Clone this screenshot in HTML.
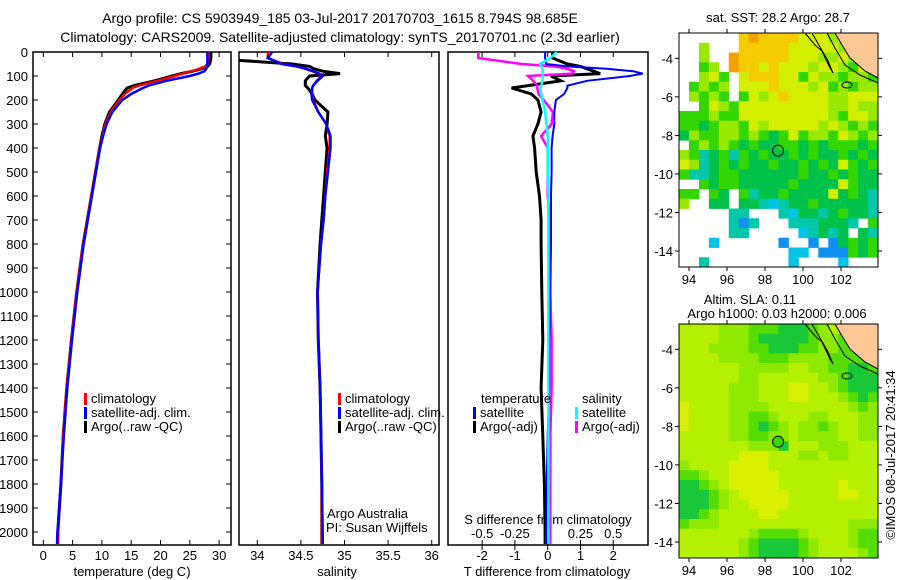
<!DOCTYPE html>
<html><head><meta charset="utf-8"><style>
body{margin:0;background:#fff;}
svg{display:block;font-family:"Liberation Sans",sans-serif;}
text{fill:#000;}
</style></head><body>
<svg id="fig" width="900" height="580" viewBox="0 0 900 580">
<defs>
<clipPath id="c1"><rect x="33" y="52" width="198" height="493"/></clipPath>
<clipPath id="c2"><rect x="239" y="52" width="200" height="493"/></clipPath>
<clipPath id="c3"><rect x="448" y="52" width="200" height="493"/></clipPath>
</defs>
<text x="340" y="23" font-size="14" text-anchor="middle">Argo profile: CS 5903949_185 03-Jul-2017 20170703_1615 8.794S 98.685E</text>
<text x="340" y="42" font-size="14" text-anchor="middle">Climatology: CARS2009. Satellite-adjusted climatology: synTS_20170701.nc (2.3d earlier)</text>
<g id="g1"></g>
<g id="g2"></g>
<g id="g3"></g>
<g id="m1"></g>
<g id="m2"></g>
<text x="778" y="22" font-size="13" text-anchor="middle">sat. SST: 28.2 Argo: 28.7</text>
<text x="750" y="304" font-size="13" text-anchor="middle">Altim. SLA: 0.11</text>
<text x="777" y="318" font-size="13" text-anchor="middle">Argo h1000: 0.03 h2000: 0.006</text>
<text transform="translate(895,455) rotate(-90)" font-size="13" text-anchor="middle">©IMOS 08-Jul-2017 20:41:34</text>
</svg>
<script>
const depths=[0,25,50,60,70,80,90,100,120,140,150,175,200,250,300,350,400,500,600,700,800,1000,1200,1400,1600,1800,2000,2050];
const tempArgo=[28.6,28.6,28.4,28.0,27.0,25.5,23.5,22.0,19.0,15.5,14.3,13.5,12.8,11.3,10.5,10.0,9.6,8.9,8.2,7.5,6.8,5.7,4.8,4.0,3.4,3.0,2.5,2.45];
const tempClim=[28.2,28.2,28.0,27.6,26.6,25.3,23.8,22.5,19.5,16.3,15.2,13.9,13.0,11.5,10.6,10.1,9.6,8.9,8.2,7.5,6.8,5.7,4.8,4.0,3.4,3.0,2.5,2.45];
const tempSat=[28.0,28.0,28.0,28.0,27.8,27.5,26.5,25.0,21.0,18.0,17.0,15.0,13.5,11.8,10.8,10.2,9.7,9.0,8.3,7.6,6.9,5.8,4.9,4.1,3.5,3.0,2.4,2.35];
const salArgo=[33.4,33.4,34.4,34.6,34.65,34.75,34.95,34.6,34.55,34.55,34.58,34.63,34.66,34.81,34.80,34.78,34.8,34.78,34.76,34.74,34.72,34.69,34.7,34.72,34.73,34.74,34.74,34.74];
const salClim=[34.12,34.12,34.3,34.45,34.55,34.63,34.7,34.74,34.68,34.64,34.63,34.63,34.64,34.7,34.79,34.83,34.83,34.8,34.78,34.76,34.73,34.69,34.7,34.72,34.73,34.74,34.74,34.74];
const salSat=[34.17,34.12,34.28,34.45,34.56,34.64,34.71,34.75,34.69,34.64,34.63,34.62,34.63,34.7,34.79,34.84,34.84,34.81,34.78,34.76,34.73,34.69,34.7,34.72,34.73,34.74,34.75,34.75];
const dTsat=[-0.08,-0.08,-0.05,0.6,1.8,2.6,2.9,2.5,1.2,0.6,0.6,0.5,0.25,0.2,0.2,0.15,0.12,0.12,0.1,0.1,0.1,0.08,0.05,0.05,0.0,-0.03,-0.05,-0.05];
const dTargo=[0.15,0.15,0.6,1.0,1.2,1.4,1.6,0.1,0.4,-0.6,-1.1,-0.5,-0.3,-0.2,-0.3,-0.45,-0.4,-0.35,-0.25,-0.2,-0.2,-0.18,-0.15,-0.2,-0.15,-0.1,-0.08,-0.08];
const dSsat=[0.07,0.02,-0.06,-0.05,-0.04,-0.04,-0.04,-0.04,-0.04,-0.05,-0.06,-0.05,-0.04,-0.02,-0.01,0.0,0.0,0.0,0.005,0.005,0.005,0.005,0.005,0.005,0.005,0.005,0.005,0.005];
const dSargo=[-0.53,-0.53,-0.2,0.05,0.15,0.2,0.19,-0.15,-0.11,-0.08,-0.08,-0.07,-0.03,0.04,0.03,-0.05,0.0,0.0,0.0,0.02,0.02,0.02,0.03,0.03,0.02,0.02,0.02,0.02];
const depthTicks=[0,100,200,300,400,500,600,700,800,900,1000,1100,1200,1300,1400,1500,1600,1700,1800,1900,2000];
const tempTicks=[0,5,10,15,20,25,30];
const salTicks=[34,34.5,35,35.5,36];
const salTickLabels=["34","34.5","35","35.5","36"];
const dTTicks=[-2,-1,0,1,2];
const dSTicks=[-0.5,-0.25,0,0.25,0.5];
const dSTickLabels=["-0.5","-0.25","0","0.25","0.5"];
const lonTicks=[94,96,98,100,102];
const latTicks=[-4,-6,-8,-10,-12,-14];
const argoLon=98.685, argoLat=-8.794;
const sstGrid=[
"......YOYYYYLLLGPPPP",
"..G...YYYYYLLLLLGPPP",
"..G..OYYYYYLLLGGLGPP",
"..gG.OYYLYLLLGLLGgLP",
"..GLg.LYYYLLgLGGgGGg",
".gGgG.LLLYLLLGLgGgGG",
".GgGg.gLGLYLLLLGGLLL",
"..gLGgLLLLLLLLLGGLGG",
"gggGggLLLLLLLLLGgLLG",
"ggDgGGgLGLLLLLGLGgGg",
"DGggGGgGgDgLgGGgLGgG",
".gGgGgDgDDggDgDgggDg",
"GgTDgTgDgDDgDgDDgDgD",
"LGTDgDgDDgDDgDgDLgDg",
"gTTDggDDDDDDgDDgDgDD",
"..gDggDDDDDgDDDDLgDD",
"gg.gD.gTDDgDDDDLDgDT",
"G..DD.DDTCTDDgDDDDDT",
".....TT...TCDDTDgDDT",
".....TBT...TTTDDDT.g",
".....TT.....CTDTD.DT",
"...C......B..B.BDgDg",
"...........CC.BBBgDg",
"..T........C....C..."];
const slaGrid=[
"LLLLGGGgggDDDgGLPPPP",
"LLLLGGGgDDDDDgGGgPPP",
"LLLGGGGggDDDggGGggPP",
"LLLLGGGGgggGGGGggggP",
"LLLLLLGGGGGLLGGggDDg",
"LLLLLLGGLLLLLLGGgDDD",
"LLLLLGGGLLLYYLLGgDDD",
"LLLLLGGGLLLYYLLLGgDg",
"YLLLLGGGGLLLLLLLLGgG",
"YLLLLGGggGLLLGGLLLGG",
"YLLLLGGgDgGLGGgGLLGG",
"LLLLLGGggGGLGGGGLLGG",
"LLLLLLLGGGDLLLGGGLLL",
"LLLLLLYYYLLLGGLGGLLL",
"GLLLLYYYYLLLLLLLLLLL",
"ggGLLYYYYYLLLLLLLLLL",
"DDgGLYYYYYLLLLLLYLLL",
"DDDgGLYYYYYLLLLLYYLL",
"DDDgGLLYYYYLLLLLLLLL",
"DDgGLLLLYYLLLLLLLLLL",
"gGGGLLLLLLLLLLLLLGGG",
"LLLLLLLGggggGLLLLGgg",
"LLLLLLGgDDDDgGLLLGgg",
"LLLLLLGgDDDDgGLLLLGg"];

const NS="http://www.w3.org/2000/svg";
function mk(tag,attrs,parent){const e=document.createElementNS(NS,tag);for(const k in attrs)e.setAttribute(k,attrs[k]);parent.appendChild(e);return e;}
const Y=d=>52+d*0.24;
const xT=t=>43.3+t*5.86;
const xS=s=>257.3+(s-34)*87.2;
const xdT=t=>547.7+t*32.8;
const xdS=s=>547.7+s*131;

function frame(g,x,w,name){const r=mk('rect',{x:x,y:52,width:w,height:493,fill:'none',stroke:'#000','stroke-width':1.5},g);}
function line(g,vals,fx,color,clip,name,w,dash){
  const pts=vals.map((v,i)=>fx(v).toFixed(1)+','+Y(depths[i]).toFixed(1)).join(' ');
  const p=mk('polyline',{points:pts,fill:'none',stroke:color,'stroke-width':w||2.5,'clip-path':'url(#'+clip+')'},g);
  if(dash)p.setAttribute('stroke-dasharray',dash);
  
}
function txt(g,x,y,s,anchor,name,size){const t=mk('text',{x:x,y:y,'font-size':size||13,'text-anchor':anchor||'start'},g);t.textContent=s;return t;}
function tick(g,x1,y1,x2,y2,name){const l=mk('line',{x1:x1,y1:y1,x2:x2,y2:y2,stroke:'#000','stroke-width':1},g);}
function legend(g,x,y,color,label,name){const r=mk('rect',{x:x,y:y-10,width:3,height:12,fill:color},g);txt(g,x+7,y,label,'start',name);}

// Panel 1
const g1=document.getElementById('g1');
frame(g1,33,198,'temperature-plot-frame');
depthTicks.forEach(d=>{tick(g1,33,Y(d),38,Y(d),'depth-tick');tick(g1,231,Y(d),226,Y(d),'depth-tick');txt(g1,28,Y(d)+5,String(d),'end','depth-tick-label');});
tempTicks.forEach(t=>{tick(g1,xT(t),52,xT(t),57,'temp-tick');tick(g1,xT(t),545,xT(t),540,'temp-tick');txt(g1,xT(t),560,String(t),'middle','temp-tick-label');});
txt(g1,132,576,'temperature (deg C)','middle','temperature-axis-title');
line(g1,tempArgo,xT,'#000','c1','argo-temperature-line',3);
line(g1,tempClim,xT,'#f00','c1','climatology-temperature-line');
line(g1,tempSat,xT,'#00f','c1','satellite-temperature-line');
legend(g1,84,403,'#f00','climatology','legend-climatology');
legend(g1,84,417,'#00f','satellite-adj. clim.','legend-satellite-adj');
legend(g1,84,431,'#000','Argo(..raw -QC)','legend-argo');

// Panel 2
const g2=document.getElementById('g2');
frame(g2,239,200,'salinity-plot-frame');
salTicks.forEach((s,i)=>{tick(g2,xS(s),52,xS(s),57,'sal-tick');tick(g2,xS(s),545,xS(s),540,'sal-tick');txt(g2,xS(s),560,salTickLabels[i],'middle','sal-tick-label');});
txt(g2,337,576,'salinity','middle','salinity-axis-title');
line(g2,salArgo,xS,'#000','c2','argo-salinity-line',3);
line(g2,salClim,xS,'#f00','c2','climatology-salinity-line');
line(g2,salSat,xS,'#00f','c2','satellite-salinity-line');
legend(g2,338,403,'#f00','climatology','legend-climatology-2');
legend(g2,338,417,'#00f','satellite-adj. clim.','legend-satellite-adj-2');
legend(g2,338,431,'#000','Argo(..raw -QC)','legend-argo-2');
txt(g2,327,518,'Argo Australia','start','argo-australia-label');
txt(g2,326,532,'PI: Susan Wijffels','start','pi-label');

// Panel 3
const g3=document.getElementById('g3');
frame(g3,448,200,'difference-plot-frame');
dTTicks.forEach(t=>{tick(g3,xdT(t),52,xdT(t),57,'dt-tick');tick(g3,xdT(t),545,xdT(t),550,'dt-tick');txt(g3,xdT(t),560,String(t),'middle','dt-tick-label');});
dSTicks.forEach((s,i)=>{tick(g3,xdS(s),545,xdS(s),540,'ds-tick');txt(g3,xdS(s),538,dSTickLabels[i],'middle','ds-tick-label');});
txt(g3,548,524,'S difference from climatology','middle','s-diff-axis-title');
txt(g3,547,576,'T difference from climatology','middle','t-diff-axis-title');
line(g3,dTargo,xdT,'#000','c3','argo-t-diff-line',3);
line(g3,dSargo,xdS,'#f0f','c3','argo-s-diff-line',2.5);
line(g3,dTsat,xdT,'#00f','c3','satellite-t-diff-line',2);
line(g3,dSsat,xdS,'#0ff','c3','satellite-s-diff-line',2.5);
txt(g3,481,403,'temperature','start','legend-temperature-header');
legend(g3,473,417,'#00f','satellite','legend-t-satellite');
legend(g3,473,431,'#000','Argo(-adj)','legend-t-argo');
txt(g3,582,403,'salinity','start','legend-salinity-header');
legend(g3,575,417,'#0ff','satellite','legend-s-satellite');
legend(g3,575,431,'#f0f','Argo(-adj)','legend-s-argo');

// Maps
const sstColors={O:'#f3a000',Y:'#f5cc00',L:'#d4ee00',G:'#99e800',g:'#33d600',D:'#00c24a',T:'#00c8a8',C:'#00c4e8',B:'#1090f0',P:'#fdc896'};
const slaColors={Y:'#d8f000',L:'#b4f000',G:'#8ee800',g:'#55dc00',D:'#18c838',P:'#fdc896'};
const lonX=lon=>689+(lon-94)*19;
function drawMap(id,top,grid,colors,filled,name){
  const g=document.getElementById(id);
  const h=234, cw=199/20, ch=h/grid.length;
  grid.forEach((row,r)=>{for(let c=0;c<row.length;c++){const k=row[c];if(k==='.')continue;
    const cell=mk('rect',{x:(679+c*cw).toFixed(2),y:(top+r*ch).toFixed(2),width:(cw+0.4).toFixed(2),height:(ch+0.4).toFixed(2),fill:colors[k]},g);
    
    }});
  const latY=lat=>top+25.3+(-4-lat)*19.27;
  const coast=mk('polyline',{points:`805,${top} 815,${top+12} 822,${top+18} 830,${top+35} 833,${top+40} 828,${top+28} 820,${top+14} 812,${top}`,fill:'none',stroke:'#000','stroke-width':1},g);
  
  const coast2=mk('polyline',{points:`827,${top} 835,${top+15} 845,${top+32} 860,${top+42} 878,${top+50}`,fill:'none',stroke:'#000','stroke-width':1},g);
  
  const isl=mk('ellipse',{cx:847,cy:top+52,rx:5,ry:3,fill:'none',stroke:'#000','stroke-width':1},g);
  
  const land=mk('polygon',{points:`835,${top} 878,${top} 878,${top+45} 865,${top+38} 850,${top+25} 842,${top+12}`,fill:'#fdc896',stroke:'#000','stroke-width':1},g);
  
  const fr=mk('rect',{x:679,y:top,width:199,height:h,fill:'none',stroke:'#000','stroke-width':1},g);
  
  lonTicks.forEach(l=>{tick(g,lonX(l),top,lonX(l),top-4,'lon-tick');tick(g,lonX(l),top+h,lonX(l),top+h+4,'lon-tick');txt(g,lonX(l),top+h+17,String(l),'middle','lon-tick-label');});
  latTicks.forEach(l=>{tick(g,679,latY(l),675,latY(l),'lat-tick');tick(g,878,latY(l),882,latY(l),'lat-tick');txt(g,673,latY(l)+5,String(l),'end','lat-tick-label');});
  const pt=mk('circle',{cx:lonX(argoLon),cy:latY(argoLat),r:5.5,fill:filled?'#33d600':'none',stroke:'#000','stroke-width':1},g);
  
}
drawMap('m1',33,sstGrid,sstColors,false,'sst-map');
drawMap('m2',324,slaGrid,slaColors,true,'sla-map');
</script>
</body></html>
